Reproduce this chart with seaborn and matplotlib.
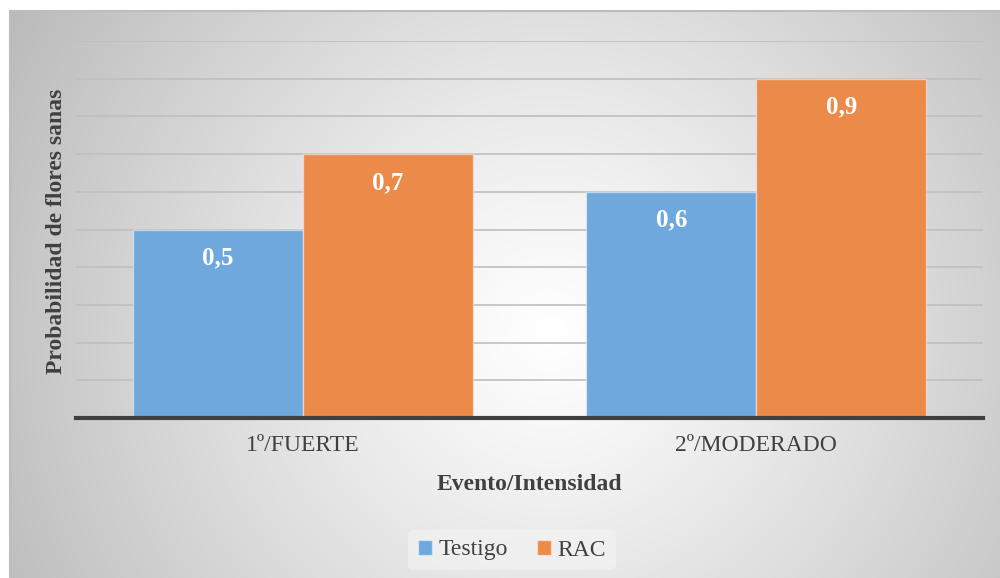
import matplotlib
matplotlib.use("Agg")
import matplotlib.pyplot as plt
import numpy as np
import pandas as pd
import seaborn as sns

## Data
eventos = ["1º/FUERTE", "2º/MODERADO"]
testigo = [0.5, 0.6]
rac = [0.7, 0.9]
grupos = ["Testigo", "RAC"]
colores = ["#6FA8DC", "#EC8A4A"]

df = pd.DataFrame({
    "evento": eventos * 2,
    "prob": testigo + rac,
    "grupo": [grupos[0]] * len(eventos) + [grupos[1]] * len(eventos),
})

sns.set_style("white")
plt.rcParams["font.family"] = ["Liberation Serif", "DejaVu Serif"]
txt_color = "#404040"

fig = plt.figure(figsize=(10, 5.78), dpi=100)

## Radial grey background of the chart area
bg = fig.add_axes([10 / 1000, 0, 990 / 1000, 567 / 578])
H, W = 567, 990
yy, xx = np.mgrid[0:H, 0:W]
d = np.hypot(xx - 540, yy - 320)
d = d / d.max()
shade = 1 - 0.27 * d ** 1.15
bg.imshow(np.dstack([shade] * 3), aspect="auto", interpolation="bilinear")
bg.set_xticks([])
bg.set_yticks([])
for side, s in bg.spines.items():
    s.set_color("#bdbdbd")
    s.set_linewidth(1.5)
    if side in ("right", "bottom"):
        s.set_visible(False)

## Main plot
ax = fig.add_axes([76 / 1000, 1 - 418 / 578, 907 / 1000, 377 / 578])
ax.patch.set_alpha(0)
sns.barplot(data=df, x="evento", y="prob", hue="grupo", palette=colores,
            width=0.75, saturation=1, edgecolor=(1, 1, 1, 0.45), linewidth=1,
            ax=ax, zorder=2)

ax.set_xlim(-0.5, 1.5)
ax.set_ylim(0, 1.0)
ax.set_yticks(np.arange(0, 1.01, 0.1))
ax.yaxis.grid(True, color="#bfbfbf", linewidth=1.2)
ax.set_axisbelow(True)
ax.tick_params(axis="y", length=0, labelleft=False)
ax.tick_params(axis="x", length=0, pad=12, labelsize=17, labelcolor=txt_color)

for side in ["top", "left", "right"]:
    ax.spines[side].set_visible(False)
ax.spines["bottom"].set_linewidth(3)
ax.spines["bottom"].set_color(txt_color)
ax.spines["bottom"].set_zorder(5)

# value labels inside the bars
for cont in ax.containers:
    for bar, v in zip(cont, cont.datavalues):
        ax.annotate(f"{v:.1f}".replace(".", ","),
                    (bar.get_x() + bar.get_width() / 2, v),
                    xytext=(0, -25.2), textcoords="offset points",
                    ha="center", va="baseline", color="white",
                    fontsize=18, fontweight="bold", zorder=6)

ax.set_xlabel("Evento/Intensidad", fontsize=17, fontweight="bold",
              color=txt_color, va="center")
ax.xaxis.set_label_coords(0.5, (418 - 484) / 377)
ax.set_ylabel("Probabilidad de flores sanas", fontsize=17, fontweight="bold",
              color=txt_color, va="center")
ax.yaxis.set_label_coords((57 - 76) / 907, (418 - 231) / 377)

handles, labels = ax.get_legend_handles_labels()
ax.legend(handles, labels, loc="center", ncol=2,
          bbox_to_anchor=(512 / 1000, 1 - 550 / 578),
          bbox_transform=fig.transFigure, fontsize=17, frameon=True,
          facecolor="#f4f4f4", edgecolor="none", framealpha=0.6,
          handlelength=0.6, handleheight=0.6, handletextpad=0.3,
          columnspacing=1.2, labelcolor=txt_color, borderpad=0.4)

fig.savefig("out.png", dpi=100)
